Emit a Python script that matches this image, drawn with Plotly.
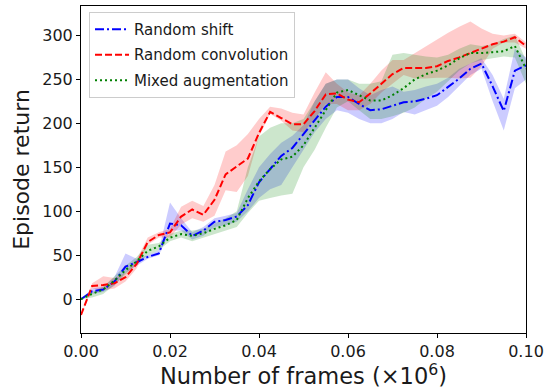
import plotly.graph_objects as go

# shared x grid (millions of frames)
frames = [i * 0.0025 for i in range(41)]

shift_mean = [0, 9, 11, 20, 37, 42, 48, 52, 86, 84, 72, 78, 88, 90, 94, 107, 133, 148, 163, 172,
              188, 204, 219, 230, 230, 222, 215, 216, 220, 224, 225, 228, 232, 241, 251, 262, 268, 242, 214, 260, 266]
shift_lo = [0, 6, 8, 15, 30, 38, 46, 50, 78, 78, 68, 72, 82, 84, 88, 100, 115, 125, 130, 150,
            170, 190, 205, 215, 212, 205, 200, 200, 205, 213, 210, 215, 220, 230, 242, 255, 262, 225, 192, 240, 250]
shift_hi = [0, 12, 14, 25, 52, 46, 50, 56, 110, 92, 76, 82, 92, 95, 98, 125, 150, 165, 178, 186,
            198, 225, 245, 250, 250, 240, 232, 238, 242, 236, 238, 242, 245, 252, 262, 268, 274, 255, 228, 285, 275]

conv_mean = [-18, 15, 16, 18, 25, 40, 65, 73, 76, 94, 102, 96, 113, 142, 151, 160, 189, 213, 206, 199,
             199, 214, 233, 234, 227, 224, 234, 245, 256, 263, 263, 263, 265, 271, 275, 280, 285, 290, 293, 298, 288]
conv_lo = [-18, 12, 10, 12, 20, 35, 62, 70, 70, 85, 92, 88, 95, 124, 122, 140, 185, 211, 203, 192,
           190, 205, 222, 222, 215, 215, 222, 235, 245, 255, 251, 251, 252, 252, 251, 252, 265, 285, 292, 292, 285]
conv_hi = [-18, 18, 26, 24, 30, 45, 70, 76, 80, 105, 112, 106, 130, 168, 175, 188, 205, 219, 217, 212,
           210, 235, 258, 245, 235, 232, 245, 260, 272, 272, 280, 287, 295, 303, 310, 316, 308, 302, 300, 302, 292]

mixed_mean = [0, 6, 11, 21, 33, 43, 55, 60, 70, 74, 72, 75, 80, 84, 90, 115, 134, 148, 159, 162,
              175, 195, 215, 235, 238, 232, 226, 226, 232, 240, 250, 256, 260, 266, 274, 280, 280, 281, 282, 288, 262]
mixed_lo = [0, 2, 6, 16, 28, 40, 50, 56, 66, 70, 66, 70, 74, 78, 82, 98, 112, 115, 118, 120,
            150, 170, 195, 218, 225, 215, 205, 205, 208, 212, 218, 228, 236, 248, 260, 268, 272, 274, 276, 275, 245]
mixed_hi = [0, 8, 14, 26, 38, 48, 62, 64, 74, 78, 78, 80, 86, 92, 100, 150, 185, 195, 200, 200,
            205, 225, 245, 250, 250, 245, 245, 248, 278, 280, 278, 276, 275, 278, 285, 290, 288, 290, 296, 300, 272]

x_ticks = [0.0, 0.02, 0.04, 0.06, 0.08, 0.10]
x_tick_text = ["0.00", "0.02", "0.04", "0.06", "0.08", "0.10"]
y_ticks = [0, 50, 100, 150, 200, 250, 300]

series = [
    ("Random shift", shift_mean, shift_lo, shift_hi, "#0000ff", "rgba(0,0,255,0.2)", "9px,3px,2px,3px"),
    ("Random convolution", conv_mean, conv_lo, conv_hi, "#ff0000", "rgba(255,0,0,0.2)", "7px,3px"),
    ("Mixed augmentation", mixed_mean, mixed_lo, mixed_hi, "#008000", "rgba(0,128,0,0.2)", "2px,3px"),
]

fig = go.Figure()
for name, m, lo, hi, col, fcol, dash in series:
    fig.add_trace(go.Scatter(
        x=frames + frames[::-1], y=lo + hi[::-1], fill="toself", fillcolor=fcol,
        line=dict(width=0), mode="lines", showlegend=False, hoverinfo="skip"))
for i, (name, m, lo, hi, col, fcol, dash) in enumerate(series):
    fig.add_trace(go.Scatter(
        x=frames, y=m, mode="lines", name=name, legendgroup=f"g{i}",
        line=dict(color=col, width=2, dash=dash)))

font_family = "DejaVu Sans"
fig.update_layout(
    width=552, height=389,
    margin=dict(l=81, r=26, t=5, b=54),
    paper_bgcolor="white", plot_bgcolor="white",
    font=dict(family=font_family, color="#1a1a1a"),
    legend=dict(x=0.018, y=0.982, xanchor="left", yanchor="top",
                bgcolor="rgba(255,255,255,0.85)", bordercolor="#cccccc", borderwidth=1,
                font=dict(size=15, family=font_family), tracegroupgap=3,
                itemwidth=34),
    xaxis=dict(range=[0, 0.1], tickvals=x_ticks, ticktext=x_tick_text,
               showgrid=False, zeroline=False, showline=True, mirror=True,
               linecolor="black", linewidth=1, ticks="outside", ticklen=4,
               tickcolor="black", tickfont=dict(size=16),
               title=dict(text="Number of frames (×10<sup>6</sup>)", font=dict(size=22.5), standoff=7)),
    yaxis=dict(range=[-38.5, 333.5], tickvals=y_ticks,
               showgrid=False, zeroline=False, showline=True, mirror=True,
               linecolor="black", linewidth=1, ticks="outside", ticklen=4,
               tickcolor="black", tickfont=dict(size=16),
               title=dict(text="Episode return", font=dict(size=22), standoff=6)),
)

fig.write_html("out.html")
